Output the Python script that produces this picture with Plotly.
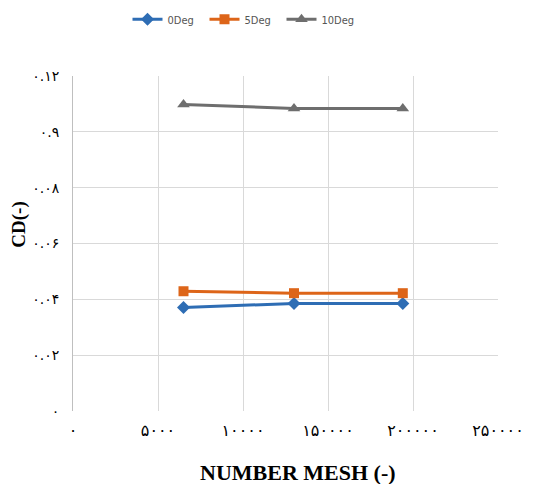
import plotly.graph_objects as go

mesh = [65000, 130000, 194000]
cd_0 = [0.0371, 0.0385, 0.0385]
cd_5 = [0.0429, 0.0422, 0.0422]
cd_10 = [0.1098, 0.1084, 0.1084]
series_names = ["0Deg", "5Deg", "10Deg"]

x_tickvals = [0, 50000, 100000, 150000, 200000, 250000]
x_ticktext = ["۰", "۵۰۰۰", "۱۰۰۰۰", "۱۵۰۰۰۰", "۲۰۰۰۰۰", "۲۵۰۰۰۰"]
y_tickvals = [0, 0.02, 0.04, 0.06, 0.08, 0.10, 0.12]
y_ticktext = ["۰", "۰.۰۲", "۰.۰۴", "۰.۰۶", "۰.۰۸", "۰.۹", "۰.۱۲"]
x_title = "NUMBER MESH (-)"
y_title = "CD(-)"

fig = go.Figure()
styles = [
    ("#2E6DB4", "diamond", 10),
    ("#DD6519", "square", 10),
    ("#6E6E6E", "triangle-up", 11),
]
for name, ys, (col, sym, sz) in zip(series_names, [cd_0, cd_5, cd_10], styles):
    fig.add_trace(go.Scatter(
        x=mesh, y=ys, name=name, mode="lines+markers",
        line=dict(color=col, width=3),
        marker=dict(symbol=sym, size=sz, color=col),
    ))

fig.update_layout(
    width=536, height=484,
    margin=dict(l=73, r=31, t=76, b=73),
    paper_bgcolor="white", plot_bgcolor="white",
    showlegend=True,
    legend=dict(orientation="h", x=0.40, xanchor="center", y=0.99, yanchor="top",
                yref="container", entrywidth=32, itemwidth=30,
                font=dict(family="Liberation Sans Narrow, DejaVu Sans Condensed, sans-serif",
                          size=11, color="#555")),
    font=dict(family="DejaVu Sans", color="black"),
    annotations=[
        dict(text="<b>" + x_title + "</b>", xref="paper", yref="paper",
             x=0.530, y=-0.185, xanchor="center", yanchor="middle", showarrow=False,
             font=dict(family="Liberation Serif", size=22, color="black")),
        dict(text="<b>" + y_title + "</b>", xref="paper", yref="paper",
             x=-0.128, y=0.555, xanchor="center", yanchor="middle", showarrow=False,
             textangle=-90,
             font=dict(family="Liberation Serif", size=19, color="black")),
    ],
)
fig.update_xaxes(
    range=[0, 250000], tickvals=x_tickvals, ticktext=x_ticktext,
    showgrid=True, gridcolor="#D9D9D9", gridwidth=1,
    zeroline=False, showline=False,
    tickfont=dict(family="DejaVu Sans", size=16, color="black"),
    ticklabelstandoff=8,
)
fig.update_yaxes(
    range=[0, 0.12], tickvals=y_tickvals, ticktext=y_ticktext,
    showgrid=True, gridcolor="#D9D9D9", gridwidth=1,
    zeroline=False, showline=True, linecolor="#BFBFBF",
    tickfont=dict(family="DejaVu Sans", size=14, color="black"),
    ticklabelstandoff=10,
)
fig.write_html("out.html")
